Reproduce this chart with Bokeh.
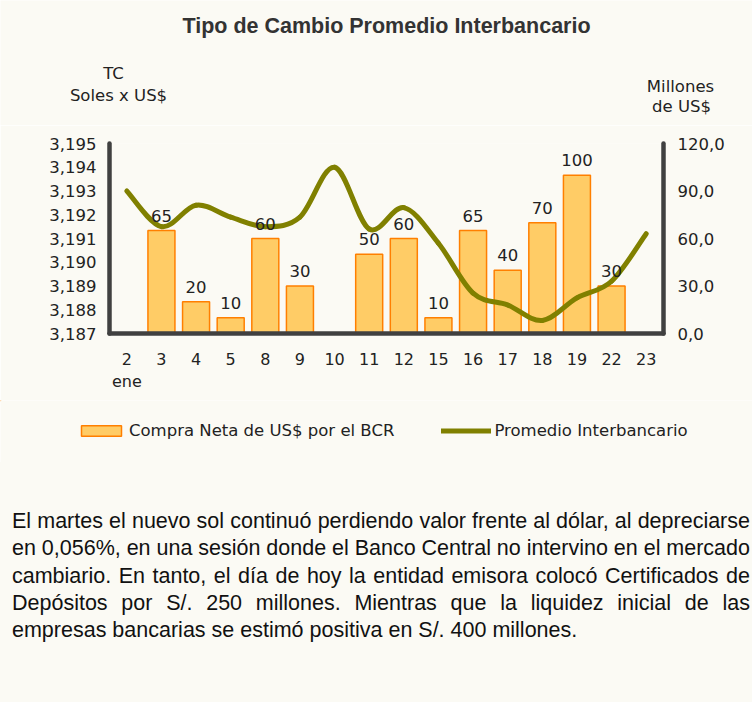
import numpy as np
from bokeh.plotting import figure
from bokeh.models import (Range1d, LinearAxis, FixedTicker, CustomJSTickFormatter,
                          ColumnDataSource, LabelSet, Label, Legend, LegendItem, Div)
from bokeh.layouts import column
from bokeh.embed import file_html
from bokeh.resources import INLINE
from bokeh.core.properties import value

# ---------------- data ----------------
titulo = "Tipo de Cambio Promedio Interbancario"
dias = ["2", "3", "4", "5", "8", "9", "10", "11", "12", "15", "16", "17", "18", "19", "22", "23"]
mes = "ene"
tc_promedio = [3.1930, 3.1915, 3.1924, 3.1919, 3.1915, 3.1919, 3.1940, 3.1914,
               3.1923, 3.1908, 3.1887, 3.1882, 3.18755, 3.1885, 3.1892, 3.1912]
compra_neta = [None, 65, 20, 10, 60, 30, None, 50, 60, 10, 65, 40, 70, 100, 30, None]
tc_ticks = [3.187, 3.188, 3.189, 3.190, 3.191, 3.192, 3.193, 3.194, 3.195]
mill_ticks = [0, 30, 60, 90, 120]
eje_izq = ["TC", "Soles x US$"]
eje_der = ["Millones", "de US$"]
serie_barras = "Compra Neta de US$ por el BCR"
serie_linea = "Promedio Interbancario"
parrafo = [
    "El martes el nuevo sol continuó perdiendo valor frente al dólar, al depreciarse",
    "en 0,056%, en una sesión donde el Banco Central no intervino en el mercado",
    "cambiario. En tanto, el día de hoy la entidad emisora colocó Certificados de",
    "Depósitos por S/. 250 millones. Mientras que la liquidez inicial de las",
    "empresas bancarias se estimó positiva en S/. 400 millones.",
]

# ---------------- style ----------------
BG = "#FBFAF4"
AX = "#404040"
TXT = "#222222"
FONT = "DejaVu Sans"
FS = "16.5px"
W = 752
BAR_FILL, BAR_LINE, LINE_COL = "#FFCC66", "#FF7F00", "#808000"
N = len(dias)
Y0, Y1 = tc_ticks[0], tc_ticks[-1]

def blank(h):
    f = figure(width=W, height=h, x_range=Range1d(0, W), y_range=Range1d(h, 0),
               output_backend="svg", toolbar_location=None, frame_align=False,
               min_border=0, min_border_left=0, min_border_right=0,
               min_border_top=0, min_border_bottom=0,
               background_fill_color=BG, border_fill_color=BG, outline_line_color=None,
               x_axis_location=None, y_axis_location=None)
    f.grid.visible = False
    return f

# ---------------- header (title + axis titles) ----------------
HH = 125
head = blank(HH)

def txt(fig, s, x, y, **kw):
    opts = dict(text_font=FONT, text_font_size=FS, text_color=TXT,
                text_align="center", text_baseline="middle")
    opts.update(kw)
    fig.add_layout(Label(x=x, y=y, text=s, **opts))

txt(head, titulo, 386, 25, text_font="Liberation Sans", text_font_size="21.5px",
    text_font_style="bold", text_color="#333333")
txt(head, eje_izq[0], 113, 73)
txt(head, eje_izq[1], 118, 95)
txt(head, eje_der[0], 680, 86)
txt(head, eje_der[1], 681, 106)

# ---------------- chart ----------------
CH = 275
FL, FW, FT, FH = 109, 554, 18, 190
xs = [i + 0.5 for i in range(N)]

p = figure(width=W, height=CH, x_range=Range1d(0, N), y_range=Range1d(Y0, Y1),
           output_backend="svg", toolbar_location=None, frame_align=False,
           min_border_left=FL, min_border_right=W - FL - FW,
           min_border_top=FT, min_border_bottom=CH - FT - FH,
           background_fill_color=BG, border_fill_color=BG, outline_line_color=None)
p.grid.visible = False
p.extra_y_ranges = {"mill": Range1d(mill_ticks[0], mill_ticks[-1])}

right = LinearAxis(y_range_name="mill")
p.add_layout(right, "right")

labels_x = {x: d for x, d in zip(xs, dias)}
labels_x[xs[0]] = dias[0] + "\n" + mes
p.xaxis.ticker = FixedTicker(ticks=xs)
p.xaxis.major_label_overrides = labels_x
p.xaxis.major_label_standoff = 16
p.yaxis[0].ticker = FixedTicker(ticks=tc_ticks)
p.yaxis[0].formatter = CustomJSTickFormatter(code="return tick.toFixed(3).replace('.', ',');")
p.yaxis[0].major_label_standoff = 13
right.ticker = FixedTicker(ticks=mill_ticks)
right.formatter = CustomJSTickFormatter(code="return tick.toFixed(1).replace('.', ',');")
right.major_label_standoff = 14

for ax in p.axis:
    ax.axis_line_color = AX
    ax.axis_line_width = 4.5
    ax.axis_line_cap = "round"
    ax.major_tick_line_color = None
    ax.minor_tick_line_color = None
    ax.major_tick_out = 0
    ax.major_tick_in = 0
    ax.major_label_text_font = FONT
    ax.major_label_text_font_size = FS
    ax.major_label_text_color = TXT
p.xaxis.major_label_text_font_size = "16px"

# bars
bar_top = [np.nan if v is None else v for v in compra_neta]
src_b = ColumnDataSource(dict(x=xs, top=bar_top))
p.vbar(x="x", top="top", bottom=0, width=0.78, source=src_b, y_range_name="mill",
       fill_color=BAR_FILL, line_color=BAR_LINE, line_width=1.5)

lab = [(x, v) for x, v in zip(xs, compra_neta) if v is not None]
src_l = ColumnDataSource(dict(x=[a for a, _ in lab], y=[b for _, b in lab],
                              t=[str(b) for _, b in lab]))
p.add_layout(LabelSet(x="x", y="y", text="t", source=src_l, y_range_name="mill",
                      y_offset=9, text_align="center", text_baseline="bottom",
                      text_font=value(FONT), text_font_size=FS, text_color=TXT))

# smoothed line through the points (cubic Bezier segments, Catmull-Rom control points)
P = list(zip(xs, tc_promedio))
seg = dict(x0=[], y0=[], x1=[], y1=[], cx0=[], cy0=[], cx1=[], cy1=[])
for i in range(N - 1):
    a = P[max(i - 1, 0)]
    b = P[i]
    c = P[i + 1]
    d = P[min(i + 2, N - 1)]
    seg["x0"].append(b[0]); seg["y0"].append(b[1])
    seg["x1"].append(c[0]); seg["y1"].append(c[1])
    seg["cx0"].append(b[0] + (c[0] - a[0]) / 6); seg["cy0"].append(b[1] + (c[1] - a[1]) / 6)
    seg["cx1"].append(c[0] - (d[0] - b[0]) / 6); seg["cy1"].append(c[1] - (d[1] - b[1]) / 6)
p.bezier(x0="x0", y0="y0", x1="x1", y1="y1", cx0="cx0", cy0="cy0", cx1="cx1", cy1="cy1",
         source=ColumnDataSource(seg), line_color=LINE_COL, line_width=5, line_cap="round")

# ---------------- legend ----------------
# legend proxies: one off-screen datum each, so the legend can draw their swatches
LH = 62
leg = blank(LH)
rb = leg.vbar(x=[-500], top=[-500], bottom=[-600], width=1,
              fill_color=BAR_FILL, line_color=BAR_LINE, line_width=1.5)
rl = leg.line(x=[-500, -400], y=[-500, -500], line_color=LINE_COL, line_width=5,
              line_cap="round")
legend = Legend(items=[LegendItem(label=serie_barras, renderers=[rb]),
                       LegendItem(label=serie_linea, renderers=[rl])],
                orientation="horizontal", location=(76, 22),
                glyph_width=50, glyph_height=13, label_height=13, label_standoff=3,
                spacing=47, padding=0, margin=0, border_line_color=None,
                background_fill_alpha=0, label_text_font=FONT, label_text_font_size=FS,
                label_text_color=TXT)
leg.add_layout(legend)

# ---------------- paragraph ----------------
DH = 702 - HH - CH - LH
rows = ""
for i, line in enumerate(parrafo):
    if i < len(parrafo) - 1:
        st = "text-align:justify;text-align-last:justify;word-spacing:-4px;"
    else:
        st = "text-align:left;"
    rows += f'<div style="width:738px;white-space:normal;{st}">{line}</div>'
html = (f'<div style="width:{W}px;height:{DH}px;overflow:hidden;background:{BG};'
        f"font-family:'Liberation Sans',Arial,sans-serif;font-size:21.5px;line-height:27.3px;"
        f'color:#111;padding:46px 0 0 12px;box-sizing:border-box">{rows}</div>')
div = Div(text=html, width=W, height=DH,
          styles={"overflow": "hidden", "background-color": BG, "margin": "0"})

layout = column(head, p, leg, div, spacing=0)
open("out.html", "w").write(file_html(layout, INLINE))
